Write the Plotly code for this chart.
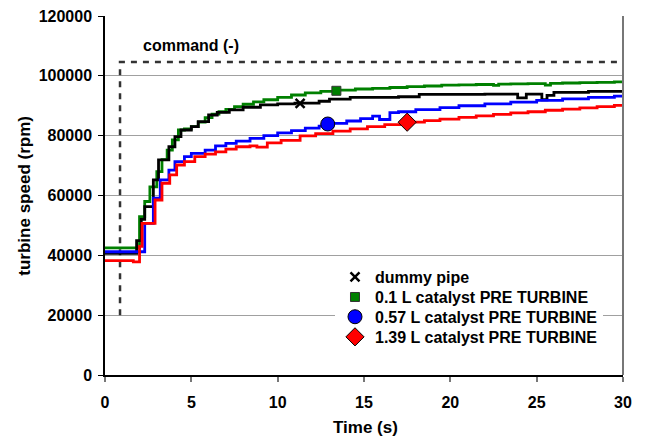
import plotly.graph_objects as go

# ---------------- data ----------------
cmd_t = [0.87, 0.87, 30]
cmd_v = [20000, 104600, 104600]

green_t = [0, 2.0, 2.3, 2.6, 3.0, 3.3, 3.6, 3.9, 4.25, 4.6, 5.0, 5.4, 5.8, 6.2, 6.6, 7.0, 7.5, 8.0, 8.6,
           9.2, 10.0, 10.8, 11.6, 12.5, 13.5, 14.5, 15.5, 16.5, 17.5, 18.5, 19.5, 20.5, 21.5, 22.5, 22.8,
           23.5, 24.5, 25.5, 25.8, 26.5, 27.5, 28.5, 29.5, 30]
green_v = [42500, 52900, 58000, 62900, 68000, 72000, 75200, 78600, 81900, 82300, 83000, 84500, 86000, 87200,
           88000, 88800, 89700, 90500, 91300, 92000, 92800, 93600, 94300, 94800, 95200, 95600, 95800, 96100,
           96400, 96600, 96900, 97000, 97100, 96800, 97200, 97300, 97400, 96900, 97500, 97600, 97700, 97800,
           98000, 98000]

black_t = [0, 1.83, 2.1, 2.3, 2.8, 3.1, 3.7, 4.05, 4.4, 5.0, 5.4, 6.0, 6.5, 7.2, 8.0, 9.0, 10.0, 11.0,
           12.4, 13.0, 14.2, 15.5, 17.0, 18.2, 20.0, 22.0, 23.9, 24.4, 25.3, 25.6, 26.0, 28.0, 30]
black_v = [40700, 44900, 52000, 56300, 65200, 71900, 76300, 79700, 81900, 83000, 84700, 86900, 87800,
           88600, 89500, 90300, 90600, 90900, 91500, 92200, 92800, 92800, 93000, 93800, 93800, 93900, 92600,
           93900, 92000, 93500, 94500, 94800, 95000]

blue_t = [0, 2.3, 2.8, 3.2, 3.7, 4.05, 4.6, 5.0, 5.8, 6.4, 7.0, 7.6, 8.4, 9.2, 10.0, 10.8, 11.6, 12.4,
          13.2, 14.0, 14.8, 15.5, 15.9, 16.5, 17.0, 18.0, 19.4, 20.5, 22.0, 23.5, 25.0, 26.5, 28.0, 29.5, 30]
blue_v = [41200, 50700, 59100, 65200, 68500, 71300, 73000, 74100, 75200, 76600, 77400, 78200, 79100, 80000,
          80900, 81700, 82500, 83200, 84100, 84900, 85700, 86500, 85400, 87700, 88000, 88700, 89400, 90000,
          90600, 91200, 91800, 92300, 92800, 93200, 93400]

red_t = [0, 1.64, 2.0, 2.15, 2.9, 3.3, 3.75, 4.15, 4.6, 5.2, 5.8, 6.4, 7.0, 7.6, 8.4, 8.8, 9.4, 10.2,
         11.3, 12.2, 13.2, 14.2, 15.2, 16.2, 17.5, 18.5, 19.4, 20.5, 21.5, 22.5, 23.5, 24.5, 25.5, 26.5,
         27.5, 28.5, 29.5, 30]
red_v = [38200, 37800, 43000, 50700, 58500, 64100, 66900, 70200, 71300, 73000, 73800, 74600, 75500, 76300,
         76600, 76200, 77600, 78400, 79900, 80700, 81500, 82300, 83000, 83700, 84500, 85000, 85500, 86100,
         86600, 87100, 87600, 88000, 88500, 88900, 89300, 89700, 90100, 90300]

series_names = ["dummy pipe", "0.1 L catalyst PRE TURBINE", "0.57 L catalyst PRE TURBINE",
                "1.39 L catalyst PRE TURBINE"]
marker_t = [11.3, 13.4, 12.9, 17.5]
marker_v = [90800, 95000, 83900, 84500]

x_ticks = [0, 5, 10, 15, 20, 25, 30]
y_ticks = [0, 20000, 40000, 60000, 80000, 100000, 120000]

FONT = "Liberation Sans, Arial, sans-serif"

fig = go.Figure()

# command line
fig.add_trace(go.Scatter(x=cmd_t, y=cmd_v, mode="lines", showlegend=False,
                         line=dict(color="#333333", width=2.5, dash="6px,6px")))

line_specs = [(black_t, black_v, "#000000"), (green_t, green_v, "#008000"),
              (blue_t, blue_v, "#0000FF"), (red_t, red_v, "#FF0000")]
for idx in [1, 0, 2, 3]:
    t, v, c = line_specs[idx]
    fig.add_trace(go.Scatter(x=t, y=v, mode="lines", line_shape="hv", showlegend=False,
                             line=dict(color=c, width=2.8)))

marker_styles = [
    dict(symbol="x-thin-open", size=9, color="#000000", line=dict(color="#000000", width=2.5)),
    dict(symbol="square", size=9, color="#008000", line=dict(color="#333333", width=1)),
    dict(symbol="circle", size=14, color="#0000FF", line=dict(color="#000000", width=1)),
    dict(symbol="diamond", size=14, color="#FF0000", line=dict(color="#000000", width=1)),
]
# one legend per entry; the white-backed one (0.57 L) is drawn first
legend_ids = ["legend2", "legend3", "legend", "legend4"]
for i in [2, 0, 1, 3]:
    fig.add_trace(go.Scatter(x=[marker_t[i]], y=[marker_v[i]], mode="markers", name=series_names[i],
                             marker=marker_styles[i], showlegend=True, legend=legend_ids[i]))

LEG_X = 0.444
leg_font = dict(family=FONT, size=16, color="#000000", weight="bold")


def leg(y, bg):
    return dict(x=LEG_X, y=y, xanchor="left", yanchor="middle", bgcolor=bg, borderwidth=0,
                font=leg_font, itemwidth=30)


fig.update_layout(
    width=647, height=438,
    margin=dict(l=105, r=24, t=16, b=63, autoexpand=False),
    paper_bgcolor="white", plot_bgcolor="white",
    font=dict(family=FONT, size=16, color="#000000", weight="bold"),
    showlegend=True,
    legend=leg(0.162, "white"),
    legend2=leg(0.273, "rgba(0,0,0,0)"),
    legend3=leg(0.217, "rgba(0,0,0,0)"),
    legend4=leg(0.106, "rgba(0,0,0,0)"),
    xaxis=dict(range=[0, 30], tickvals=x_ticks, showgrid=False, zeroline=False, automargin=False,
               showline=True, linecolor="#000000", linewidth=1.5,
               ticks="outside", ticklen=5, tickcolor="#777777", tickwidth=1.5, ticklabelstandoff=7,
               tickfont=dict(family=FONT, size=16, weight="bold")),
    yaxis=dict(range=[0, 120000], tickvals=y_ticks, tickformat="d", showgrid=True, automargin=False,
               gridcolor="#A0A0A0", gridwidth=1.3, zeroline=False,
               showline=True, linecolor="#000000", linewidth=1.5,
               ticks="outside", ticklen=5, tickcolor="#000000", tickwidth=1.2, ticklabelstandoff=3,
               tickfont=dict(family=FONT, size=16, weight="bold")),
    shapes=[dict(type="line", xref="paper", yref="paper", x0=1, x1=1, y0=0, y1=1,
                 line=dict(color="#777777", width=2))],
    annotations=[
        dict(text="command (-)", x=2.1, y=110000, xref="x", yref="y", xanchor="left",
             yanchor="middle", showarrow=False, font=dict(family=FONT, size=16, weight="bold")),
        dict(text="Time (s)", x=0.502, y=-0.1476, xref="paper", yref="paper", xanchor="center",
             yanchor="middle", showarrow=False, font=dict(family=FONT, size=17, weight="bold")),
        dict(text="turbine speed (rpm)", x=-0.156, y=0.5, xref="paper", yref="paper", xanchor="center",
             yanchor="middle", textangle=-90, showarrow=False,
             font=dict(family=FONT, size=17, weight="bold")),
        dict(text="FIG 10.  Effect of catalyst volume on turbine RPM and", x=-0.208, y=-0.167,
             xref="paper", yref="paper", xanchor="left", yanchor="top", showarrow=False,
             font=dict(family=FONT, size=20, color="#666666", weight="normal")),
    ],
)

fig.write_html("out.html")
